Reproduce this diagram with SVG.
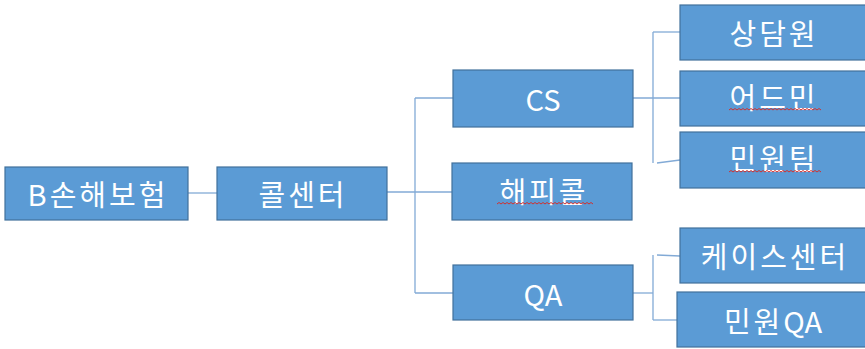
<svg xmlns="http://www.w3.org/2000/svg" width="865" height="349" viewBox="0 0 865 349">
<style>
.box{fill:#5b9bd5;stroke:#41719c;stroke-width:1.2}
.t{fill:#fff;font-family:"Noto Sans CJK KR","Noto Sans",sans-serif;font-size:29px;letter-spacing:3px;text-anchor:middle;dominant-baseline:central}
.l{letter-spacing:0}
.c{fill:none;stroke:#82aad6;stroke-width:1.3}
.sq{fill:none;stroke:#d0302f;stroke-width:1}
</style>
<rect width="865" height="349" fill="#fff"/>
<g id="connectors">
<path class="c" d="M188,193H217"/>
<path class="c" d="M387,192H452"/>
<path class="c" d="M415,98V293"/>
<path class="c" d="M415,98H453"/>
<path class="c" d="M415,293H453"/>
<path class="c" d="M633,98H680"/>
<path class="c" d="M653,32V163"/>
<path class="c" d="M653,32H680"/>
<path class="c" d="M657,163L680,160"/>
<path class="c" d="M633,293H653"/>
<path class="c" d="M653,255V320"/>
<path class="c" d="M657,255L680,256"/>
<path class="c" d="M653,320H677"/>
</g>
<g id="n1"><rect class="box" x="5" y="167" width="183" height="53"/><text class="t" x="98" y="193">B손해보험</text></g>
<g id="n2"><rect class="box" x="217" y="167" width="170" height="53"/><text class="t" x="303" y="193">콜센터</text></g>
<g id="n3"><rect class="box" x="453" y="70" width="180" height="57"/><text class="t l" x="543" y="98">CS</text></g>
<g id="n4"><rect class="box" x="452" y="163" width="180" height="57"/><text class="t" x="544" y="190">해피콜</text><path class="sq" d="M497,204l2,-1.5l2,1.5l2,-1.5l2,1.5l2,-1.5l2,1.5l2,-1.5l2,1.5l2,-1.5l2,1.5l2,-1.5l2,1.5l2,-1.5l2,1.5l2,-1.5l2,1.5l2,-1.5l2,1.5l2,-1.5l2,1.5l2,-1.5l2,1.5l2,-1.5l2,1.5l2,-1.5l2,1.5l2,-1.5l2,1.5l2,-1.5l2,1.5l2,-1.5l2,1.5l2,-1.5l2,1.5l2,-1.5l2,1.5l2,-1.5l2,1.5l2,-1.5l2,1.5l2,-1.5l2,1.5l2,-1.5l2,1.5l2,-1.5l2,1.5l2,-1.5l2,1.5"/></g>
<g id="n5"><rect class="box" x="453" y="265" width="180" height="55"/><text class="t l" x="543" y="293">QA</text></g>
<g id="n6"><rect class="box" x="680" y="5" width="190" height="55"/><text class="t" x="774" y="32">상담원</text></g>
<g id="n7"><rect class="box" x="680" y="71" width="190" height="55"/><text class="t" x="774" y="96">어드민</text><path class="sq" d="M729,110l2,-1.5l2,1.5l2,-1.5l2,1.5l2,-1.5l2,1.5l2,-1.5l2,1.5l2,-1.5l2,1.5l2,-1.5l2,1.5l2,-1.5l2,1.5l2,-1.5l2,1.5l2,-1.5l2,1.5l2,-1.5l2,1.5l2,-1.5l2,1.5l2,-1.5l2,1.5l2,-1.5l2,1.5l2,-1.5l2,1.5l2,-1.5l2,1.5l2,-1.5l2,1.5l2,-1.5l2,1.5l2,-1.5l2,1.5l2,-1.5l2,1.5l2,-1.5l2,1.5l2,-1.5l2,1.5l2,-1.5l2,1.5l2,-1.5l2,1.5"/></g>
<g id="n8"><rect class="box" x="680" y="132" width="190" height="56"/><text class="t" x="774" y="157">민원팀</text><path class="sq" d="M729,172l2,-1.5l2,1.5l2,-1.5l2,1.5l2,-1.5l2,1.5l2,-1.5l2,1.5l2,-1.5l2,1.5l2,-1.5l2,1.5l2,-1.5l2,1.5l2,-1.5l2,1.5l2,-1.5l2,1.5l2,-1.5l2,1.5l2,-1.5l2,1.5l2,-1.5l2,1.5l2,-1.5l2,1.5l2,-1.5l2,1.5l2,-1.5l2,1.5l2,-1.5l2,1.5l2,-1.5l2,1.5l2,-1.5l2,1.5l2,-1.5l2,1.5l2,-1.5l2,1.5l2,-1.5l2,1.5l2,-1.5l2,1.5l2,-1.5l2,1.5"/></g>
<g id="n9"><rect class="box" x="680" y="228" width="190" height="55"/><text class="t" x="775" y="255">케이스센터</text></g>
<g id="n10"><rect class="box" x="677" y="292" width="193" height="55"/><text class="t" x="773" y="320">민원<tspan class="l">QA</tspan></text></g>
</svg>
